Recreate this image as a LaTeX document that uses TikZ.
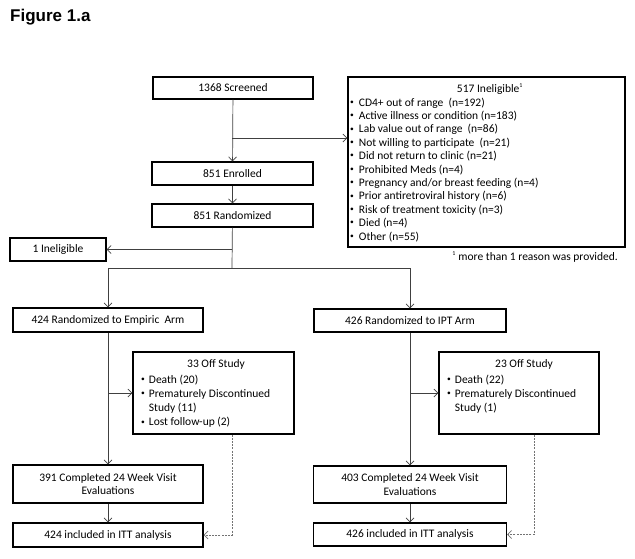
\documentclass[tikz,border=0pt]{standalone}
\usepackage{fontspec}
\setmainfont{Carlito}
\newfontfamily\headfont{Liberation Sans}
\usetikzlibrary{arrows.meta, positioning}

\newcommand\dotitem{\raisebox{0.3ex}{\fontsize{7.5}{7.5}\selectfont\textbullet}}

\tikzset{
  box/.style={draw, line width=1.3pt, inner sep=2pt, align=center,
    font=\fontsize{11.5}{13.4}\selectfont},
  txt/.style={inner sep=0pt, font=\fontsize{11.5}{13.4}\selectfont},
  offtxt/.style={inner sep=0pt, font=\fontsize{11.5}{14.3}\selectfont},
  link/.style={draw=black!75, line width=0.7pt},
  arr/.style={link, -{Straight Barb[length=4pt,width=8pt]}},
  dotlink/.style={draw=black!55, line width=0.7pt, dash pattern=on 2pt off 1.2pt,
    -{Straight Barb[length=4pt,width=8pt]}}
}

\begin{document}
\begin{tikzpicture}[x=1pt, y=-1pt]
    \useasboundingbox (0,0) rectangle (635,558);

    % Title
    \node[anchor=base west, inner sep=0pt, font={\headfont\bfseries\fontsize{17}{20}\selectfont}] (title) at (10,21) {Figure 1.a};

    % Screening and enrolment
    \node[box, minimum width=160pt, minimum height=22pt] (scr) at (233,88) {1368 Screened};
    \node[box, minimum width=161pt, minimum height=23pt] (enr) at (232.5,173.5) {851 Enrolled};
    \node[box, minimum width=161pt, minimum height=23pt] (rnd) at (232.5,215.5) {851 Randomized};
    \node[box, minimum width=96pt, minimum height=23pt] (inelone) at (58,249.5) {1 Ineligible};

    % Ineligible reasons
    \node[draw, line width=1.3pt, minimum width=277pt, minimum height=170pt] (inel) at (486.5,162) {};
    \node[txt, anchor=base] (inelhead) at (490,92) {517 Ineligible\textsuperscript{\fontsize{6}{6}\selectfont 1}};
    \node[txt, anchor=base west] (inellist) at (350,106) {\begin{tabular}[t]{@{}l@{\hspace{5pt}}l@{}}
        \dotitem & CD4+ out of range\ \ (n=192)\\
        \dotitem & Active illness or condition (n=183)\\
        \dotitem & Lab value out of range\ \ (n=86)\\
        \dotitem & Not willing to participate\ \ (n=21)\\
        \dotitem & Did not return to clinic (n=21)\\
        \dotitem & Prohibited Meds (n=4)\\
        \dotitem & Pregnancy and/or breast feeding (n=4)\\
        \dotitem & Prior antiretroviral history (n=6)\\
        \dotitem & Risk of treatment toxicity (n=3)\\
        \dotitem & Died (n=4)\\
        \dotitem & Other (n=55)
    \end{tabular}};
    \node[txt, anchor=base east] (inelnote) at (618,260) {\textsuperscript{\fontsize{6}{6}\selectfont 1} more than 1 reason was provided.};

    % Two arms
    \node[box, minimum width=190pt, minimum height=24pt] (emp) at (108,320) {424 Randomized to Empiric\ \ Arm};
    \node[box, minimum width=192pt, minimum height=23pt] (ipt) at (410,320.5) {426 Randomized to IPT Arm};

    % Off study boxes
    \node[draw, line width=1.3pt, minimum width=161pt, minimum height=82pt] (offemp) at (213.5,393) {};
    \node[txt, anchor=base] (offemphead) at (216,367) {33 Off Study};
    \node[offtxt, anchor=base west] (offemplist) at (141,383) {\begin{tabular}[t]{@{}l@{\hspace{4pt}}l@{}}
        \dotitem & Death (20)\\
        \dotitem & Prematurely Discontinued\\
        & Study (11)\\
        \dotitem & Lost follow-up (2)
    \end{tabular}};
    \node[draw, line width=1.3pt, minimum width=160pt, minimum height=82pt] (offipt) at (519,393) {};
    \node[txt, anchor=base] (offipthead) at (524,367) {23 Off Study};
    \node[offtxt, anchor=base west] (offiptlist) at (447,383) {\begin{tabular}[t]{@{}l@{\hspace{4pt}}l@{}}
        \dotitem & Death (22)\\
        \dotitem & Prematurely Discontinued\\
        & Study (1)
    \end{tabular}};

    % Completed and ITT
    \node[box, minimum width=190pt, minimum height=38pt] (compemp) at (108,484) {391 Completed 24 Week Visit\\Evaluations};
    \node[box, minimum width=193pt, minimum height=37pt] (compipt) at (410,484.5) {403 Completed 24 Week Visit\\Evaluations};
    \node[box, minimum width=190pt, minimum height=24pt] (ittemp) at (108,535) {424 included in ITT analysis};
    \node[box, minimum width=193pt, minimum height=23pt] (ittipt) at (410,534.5) {426 included in ITT analysis};

    % Branch points
    \coordinate (exc) at (232,138);
    \coordinate (excone) at (232,249.5);
    \coordinate (split) at (232,268);
    \coordinate (outemp) at (108,393);
    \coordinate (outipt) at (410,393);

    % Connectors
    \draw[arr] (scr) -- (enr);
    \draw[arr] (exc) -- (exc -| inel.west);
    \draw[arr] (enr) -- (rnd);
    \draw[link] (rnd) -- (split);
    \draw[arr] (excone) -- (inelone);
    \draw[arr] (split) -| (emp);
    \draw[arr] (split) -| (ipt);
    \draw[arr] (emp) -- (compemp);
    \draw[arr] (ipt) -- (compipt);
    \draw[arr] (outemp) -- (offemp);
    \draw[arr] (outipt) -- (offipt);
    \draw[arr] (compemp) -- (ittemp);
    \draw[arr] (compipt) -- (ittipt);
    \draw[dotlink] ([xshift=18.5pt]offemp.south) |- (ittemp.east);
    \draw[dotlink] ([xshift=15pt]offipt.south) |- (ittipt.east);
\end{tikzpicture}
\end{document}
